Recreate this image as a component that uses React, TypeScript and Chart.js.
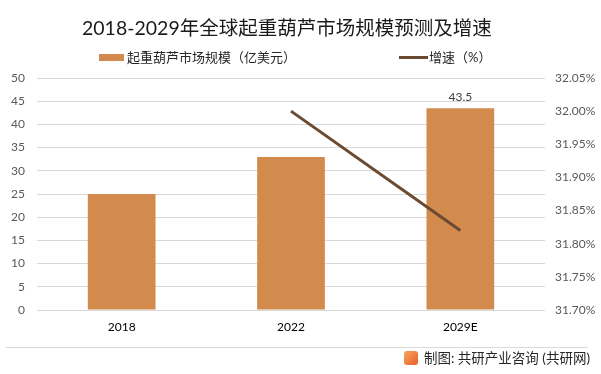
import React, { useEffect, useRef } from "react";
import { Chart, registerables } from "chart.js";

Chart.register(...registerables);

const categories = ["2018", "2022", "2029E"];
const marketSize = [25, 33, 43.5];
const growthRate = [null, 32.0, 31.82];
const leftTicks = [0, 5, 10, 15, 20, 25, 30, 35, 40, 45, 50];
const rightTicks = [31.7, 31.75, 31.8, 31.85, 31.9, 31.95, 32.0, 32.05];
const title = "2018-2029年全球起重葫芦市场规模预测及增速";
const barLabel = "起重葫芦市场规模（亿美元）";
const lineLabel = "增速（%）";
const footer = "制图: 共研产业咨询 (共研网)";

const FONT = "Lato, 'Noto Sans CJK SC', sans-serif";
const BAR_COLOR = "#D38B4D";
const LINE_COLOR = "#6B4A30";

export default function App() {
  const ref = useRef<HTMLCanvasElement | null>(null);
  useEffect(() => {
    document.body.style.margin = "0";
    const ctx = ref.current!.getContext("2d")!;
    const labelPlugin = {
      id: "barLabel",
      afterDatasetsDraw(chart: any) {
        const meta = chart.getDatasetMeta(0);
        const el = meta.data[2];
        const c = chart.ctx;
        c.save();
        c.font = `12px ${FONT}`;
        c.fillStyle = "#404040";
        c.textAlign = "center";
        c.textBaseline = "bottom";
        c.fillText(String(marketSize[2]), el.x, el.y - 5);
        c.restore();
      },
    };
    const chart = new Chart(ctx, {
      type: "bar",
      data: {
        labels: categories,
        datasets: [
          {
            type: "bar",
            label: barLabel,
            data: marketSize,
            backgroundColor: BAR_COLOR,
            barPercentage: 0.4,
            categoryPercentage: 1,
            yAxisID: "y",
            order: 2,
          },
          {
            type: "line",
            label: lineLabel,
            data: growthRate as any,
            borderColor: LINE_COLOR,
            backgroundColor: LINE_COLOR,
            borderWidth: 3,
            pointRadius: 0,
            yAxisID: "y1",
            order: 1,
          },
        ],
      },
      options: {
        responsive: false,
        animation: false,
        layout: { padding: { top: 78, left: 0, right: 0, bottom: 34 } },
        plugins: { legend: { display: false }, title: { display: false }, tooltip: { enabled: false } },
        scales: {
          x: {
            grid: { display: false, drawTicks: false },
            border: { display: false },
            ticks: { color: "#000", font: { family: FONT, size: 12 }, padding: 10 },
            afterFit: (s: any) => { s.height = 30; },
          },
          y: {
            position: "left",
            min: 0,
            max: 50,
            afterBuildTicks: (s: any) => { s.ticks = leftTicks.map((v) => ({ value: v })); },
            grid: { color: "#D9D9D9", drawTicks: false, lineWidth: 1 },
            border: { display: false },
            ticks: { color: "#595959", font: { family: FONT, size: 12 }, padding: 12 },
            afterFit: (s: any) => { s.width = 37; },
          },
          y1: {
            position: "right",
            min: 31.7,
            max: 32.05,
            afterBuildTicks: (s: any) => { s.ticks = rightTicks.map((v) => ({ value: v })); },
            grid: { display: false, drawTicks: false },
            border: { display: false },
            ticks: {
              color: "#595959",
              font: { family: FONT, size: 12 },
              padding: 10,
              callback: (v: any) => Number(v).toFixed(2) + "%",
            },
            afterFit: (s: any) => { s.width = 56; },
          },
        },
      },
      plugins: [labelPlugin],
    });
    return () => chart.destroy();
  }, []);

  return (
    <div style={{ position: "relative", width: 601, height: 374, background: "#fff", fontFamily: FONT }}>
      <canvas ref={ref} width={601} height={374} style={{ position: "absolute", left: 0, top: 0 }} />
      <div style={{ position: "absolute", left: 82, top: 15, whiteSpace: "nowrap", fontSize: 19.5, color: "#1a1a1a", lineHeight: "26px" }}>
        {title}
      </div>
      <div style={{ position: "absolute", left: 99, top: 48, display: "flex", alignItems: "center", fontSize: 13, color: "#262626", lineHeight: "18px" }}>
        <span style={{ display: "inline-block", width: 25, height: 7, background: BAR_COLOR, marginRight: 3 }} />
        {barLabel}
      </div>
      <div style={{ position: "absolute", left: 399, top: 48, display: "flex", alignItems: "center", fontSize: 13, color: "#262626", lineHeight: "18px" }}>
        <span style={{ display: "inline-block", width: 29, height: 3, background: LINE_COLOR, marginRight: 1 }} />
        {lineLabel}
      </div>
      <div style={{ position: "absolute", left: 6, width: 582, top: 347, height: 1, background: "#D9D9D9" }} />
      <div style={{ position: "absolute", right: 11, top: 348, display: "flex", alignItems: "center", fontSize: 13.5, color: "#262626", lineHeight: "20px" }}>
        <span style={{ display: "inline-block", width: 14, height: 14, borderRadius: 3, background: "linear-gradient(135deg,#F7A35C,#E8602C)", marginRight: 6 }} />
        {footer}
      </div>
    </div>
  );
}
